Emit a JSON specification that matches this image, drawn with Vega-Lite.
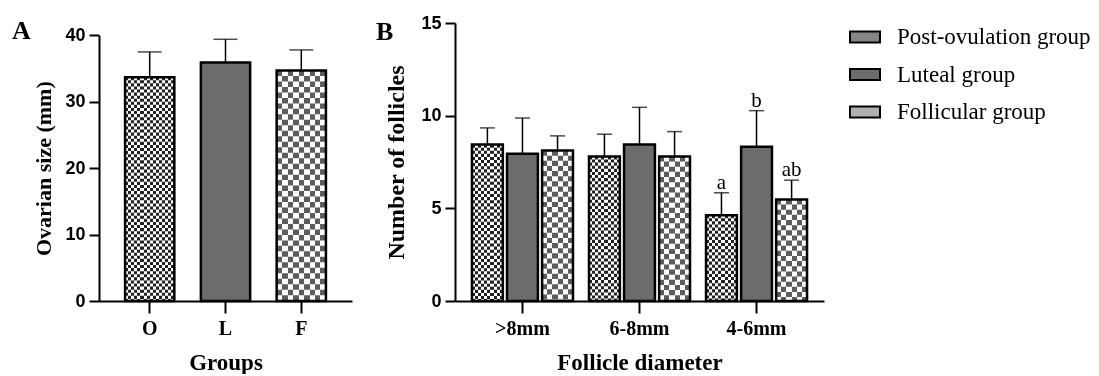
{
  "$schema": "https://vega.github.io/schema/vega-lite/v6.json",
  "background": "white",
  "autosize": {"type": "pad"},
  "padding": {"left": 12, "top": 14, "right": 0, "bottom": 0},
  "bounds": "flush",
  "spacing": 103,
  "resolve": {"scale": {"fill": "independent"}, "legend": {"fill": "independent"}},
  "config": {
    "view": {"stroke": null},
    "axis": {
      "domainColor": "black", "domainWidth": 2,
      "tickColor": "black", "tickWidth": 2,
      "labelColor": "black", "titleColor": "black",
      "grid": false
    },
    "title": {"color": "black"}
  },
  "datasets": {
    "ovary": [
      {"group": "O", "mean": 33.7, "upper": 37.5},
      {"group": "L", "mean": 35.9, "upper": 39.4},
      {"group": "F", "mean": 34.7, "upper": 37.8}
    ],
    "follicles": [
      {"diameter": ">8mm", "group": "Post-ovulation group", "mean": 8.44, "upper": 9.34, "sig": ""},
      {"diameter": ">8mm", "group": "Luteal group", "mean": 7.94, "upper": 9.88, "sig": ""},
      {"diameter": ">8mm", "group": "Follicular group", "mean": 8.12, "upper": 8.91, "sig": ""},
      {"diameter": "6-8mm", "group": "Post-ovulation group", "mean": 7.80, "upper": 9.0, "sig": ""},
      {"diameter": "6-8mm", "group": "Luteal group", "mean": 8.44, "upper": 10.45, "sig": ""},
      {"diameter": "6-8mm", "group": "Follicular group", "mean": 7.80, "upper": 9.14, "sig": ""},
      {"diameter": "4-6mm", "group": "Post-ovulation group", "mean": 4.63, "upper": 5.84, "sig": "a"},
      {"diameter": "4-6mm", "group": "Luteal group", "mean": 8.32, "upper": 10.27, "sig": "b"},
      {"diameter": "4-6mm", "group": "Follicular group", "mean": 5.48, "upper": 6.52, "sig": "ab"}
    ]
  },
  "hconcat": [
    {
      "width": 253,
      "height": 278,
      "title": {"text": "A", "anchor": "start", "frame": "group", "orient": "top", "baseline": "alphabetic", "offset": 0, "dx": -87, "dy": 42, "font": "Liberation Serif", "fontSize": 26, "fontWeight": "bold"},
      "data": {"name": "ovary"},
      "encoding": {
        "x": {
          "field": "group", "type": "nominal", "sort": ["O", "L", "F"],
          "scale": {"paddingInner": 0.35, "paddingOuter": 0.344},
          "axis": {
            "title": "Groups", "labelAngle": 0,
            "labelFont": "Liberation Serif", "labelFontWeight": "bold", "labelFontSize": 20, "labelPadding": 5,
            "tickSize": 12,
            "titleFont": "Liberation Serif", "titleFontWeight": "bold", "titleFontSize": 23, "titlePadding": 13
          }
        }
      },
      "layer": [
        {
          "mark": {"type": "bar"},
          "encoding": {
            "y": {
              "field": "mean", "type": "quantitative",
              "scale": {"domain": [0, 40], "range": [278, 12.3], "nice": false, "zero": true},
              "axis": {
                "title": "Ovarian size (mm)", "values": [0, 10, 20, 30, 40],
                "labelFont": "Liberation Sans", "labelFontWeight": "bold", "labelFontSize": 18, "labelPadding": 4,
                "tickSize": 10,
                "titleFont": "Liberation Serif", "titleFontWeight": "bold", "titleFontSize": 22, "titlePadding": 9
              }
            },
            "fill": {"field": "group", "type": "nominal", "scale": {"domain": ["O", "L", "F"], "range": ["#858585", "#6c6c6c", "#b0b0b0"]}, "legend": null}
          }
        },
        {
          "transform": [{"filter": "datum.group == 'O'"}],
          "mark": {"type": "bar", "fill": {"gradient": "linear", "x1": 0, "y1": 0, "x2": 1, "y2": 0, "stops": [
            {"offset": 0, "color": "#000000"}, {"offset": 0.0625, "color": "#000000"},
            {"offset": 0.0625, "color": "#dddddd"}, {"offset": 0.125, "color": "#dddddd"},
            {"offset": 0.125, "color": "#000000"}, {"offset": 0.1875, "color": "#000000"},
            {"offset": 0.1875, "color": "#dddddd"}, {"offset": 0.25, "color": "#dddddd"},
            {"offset": 0.25, "color": "#000000"}, {"offset": 0.3125, "color": "#000000"},
            {"offset": 0.3125, "color": "#dddddd"}, {"offset": 0.375, "color": "#dddddd"},
            {"offset": 0.375, "color": "#000000"}, {"offset": 0.4375, "color": "#000000"},
            {"offset": 0.4375, "color": "#dddddd"}, {"offset": 0.5, "color": "#dddddd"},
            {"offset": 0.5, "color": "#000000"}, {"offset": 0.5625, "color": "#000000"},
            {"offset": 0.5625, "color": "#dddddd"}, {"offset": 0.625, "color": "#dddddd"},
            {"offset": 0.625, "color": "#000000"}, {"offset": 0.6875, "color": "#000000"},
            {"offset": 0.6875, "color": "#dddddd"}, {"offset": 0.75, "color": "#dddddd"},
            {"offset": 0.75, "color": "#000000"}, {"offset": 0.8125, "color": "#000000"},
            {"offset": 0.8125, "color": "#dddddd"}, {"offset": 0.875, "color": "#dddddd"},
            {"offset": 0.875, "color": "#000000"}, {"offset": 0.9375, "color": "#000000"},
            {"offset": 0.9375, "color": "#dddddd"}, {"offset": 1, "color": "#dddddd"}
          ]}},
          "encoding": {"y": {"field": "mean", "type": "quantitative"}}
        },
        {
          "transform": [{"filter": "datum.group == 'F'"}],
          "mark": {"type": "bar", "fill": {"gradient": "linear", "x1": 0, "y1": 0, "x2": 1, "y2": 0, "stops": [
            {"offset": 0, "color": "#000000"}, {"offset": 0.1111, "color": "#000000"},
            {"offset": 0.1111, "color": "#a3a3a3"}, {"offset": 0.2222, "color": "#a3a3a3"},
            {"offset": 0.2222, "color": "#000000"}, {"offset": 0.3333, "color": "#000000"},
            {"offset": 0.3333, "color": "#a3a3a3"}, {"offset": 0.4444, "color": "#a3a3a3"},
            {"offset": 0.4444, "color": "#000000"}, {"offset": 0.5556, "color": "#000000"},
            {"offset": 0.5556, "color": "#a3a3a3"}, {"offset": 0.6667, "color": "#a3a3a3"},
            {"offset": 0.6667, "color": "#000000"}, {"offset": 0.7778, "color": "#000000"},
            {"offset": 0.7778, "color": "#a3a3a3"}, {"offset": 0.8889, "color": "#a3a3a3"},
            {"offset": 0.8889, "color": "#000000"}, {"offset": 1, "color": "#000000"}
          ]}},
          "encoding": {"y": {"field": "mean", "type": "quantitative"}}
        },
        {
          "transform": [{"filter": "datum.group == 'O'"}],
          "mark": {"type": "rule", "color": "#dddddd", "strokeWidth": 49.3, "strokeDash": [3.08, 3.08], "strokeCap": "butt", "blend": "difference"},
          "encoding": {"y": {"field": "mean", "type": "quantitative"}, "y2": {"datum": 0}}
        },
        {
          "transform": [{"filter": "datum.group == 'F'"}],
          "mark": {"type": "rule", "color": "#a3a3a3", "strokeWidth": 49.3, "strokeDash": [5.48, 5.48], "strokeCap": "butt", "blend": "difference"},
          "encoding": {"y": {"field": "mean", "type": "quantitative"}, "y2": {"datum": 0}}
        },
        {
          "transform": [{"filter": "datum.group != 'L'"}],
          "mark": {"type": "bar", "fill": "white", "blend": "difference"},
          "encoding": {"y": {"field": "mean", "type": "quantitative"}}
        },
        {
          "mark": {"type": "bar", "filled": false, "stroke": "black", "strokeWidth": 2.5},
          "encoding": {"y": {"field": "mean", "type": "quantitative"}}
        },
        {
          "mark": {"type": "rule", "color": "black", "strokeWidth": 1.5},
          "encoding": {
            "y": {"field": "mean", "type": "quantitative"},
            "y2": {"field": "upper"}
          }
        },
        {
          "mark": {"type": "tick", "color": "black", "size": 24, "thickness": 1.5, "orient": "horizontal"},
          "encoding": {
            "y": {"field": "upper", "type": "quantitative"}
          }
        }
      ]
    },
    {
      "width": 369,
      "height": 278,
      "title": {"text": "B", "anchor": "start", "frame": "group", "orient": "top", "baseline": "alphabetic", "offset": 0, "dx": -79, "dy": 52, "font": "Liberation Serif", "fontSize": 26, "fontWeight": "bold"},
      "data": {"name": "follicles"},
      "encoding": {
        "x": {
          "field": "diameter", "type": "nominal", "sort": [">8mm", "6-8mm", "4-6mm"],
          "scale": {"paddingInner": 0.137, "paddingOuter": 0.145},
          "axis": {
            "title": "Follicle diameter", "labelAngle": 0,
            "labelFont": "Liberation Serif", "labelFontWeight": "bold", "labelFontSize": 20, "labelPadding": 5,
            "tickSize": 12,
            "titleFont": "Liberation Serif", "titleFontWeight": "bold", "titleFontSize": 23, "titlePadding": 13
          }
        },
        "xOffset": {
          "field": "group", "type": "nominal",
          "sort": ["Post-ovulation group", "Luteal group", "Follicular group"],
          "scale": {"paddingInner": 0.12, "paddingOuter": 0}
        }
      },
      "layer": [
        {
          "mark": {"type": "bar"},
          "encoding": {
            "y": {
              "field": "mean", "type": "quantitative",
              "scale": {"domain": [0, 15], "nice": false},
              "axis": {
                "title": "Number of follicles", "values": [0, 5, 10, 15],
                "labelFont": "Liberation Sans", "labelFontWeight": "bold", "labelFontSize": 18, "labelPadding": 4,
                "tickSize": 10,
                "titleFont": "Liberation Serif", "titleFontWeight": "bold", "titleFontSize": 24, "titlePadding": 12
              }
            },
            "fill": {
              "field": "group", "type": "nominal",
              "scale": {"domain": ["Post-ovulation group", "Luteal group", "Follicular group"], "range": ["#858585", "#6c6c6c", "#b0b0b0"]},
              "legend": {
                "title": null, "orient": "none", "legendX": 394, "legendY": -2, "padding": 0,
                "symbolType": "M-1,-0.367H1V0.367H-1Z", "symbolSize": 900,
                "symbolStrokeColor": "black", "symbolStrokeWidth": 2, "symbolOpacity": 1,
                "labelFont": "Liberation Serif", "labelFontSize": 23, "labelColor": "black", "labelLimit": 400,
                "labelOffset": 16, "rowPadding": 9.5
              }
            }
          }
        },
        {
          "transform": [{"filter": "datum.group == 'Post-ovulation group'"}],
          "mark": {"type": "bar", "fill": {"gradient": "linear", "x1": 0, "y1": 0, "x2": 1, "y2": 0, "stops": [
            {"offset": 0, "color": "#000000"}, {"offset": 0.1, "color": "#000000"},
            {"offset": 0.1, "color": "#dddddd"}, {"offset": 0.2, "color": "#dddddd"},
            {"offset": 0.2, "color": "#000000"}, {"offset": 0.3, "color": "#000000"},
            {"offset": 0.3, "color": "#dddddd"}, {"offset": 0.4, "color": "#dddddd"},
            {"offset": 0.4, "color": "#000000"}, {"offset": 0.5, "color": "#000000"},
            {"offset": 0.5, "color": "#dddddd"}, {"offset": 0.6, "color": "#dddddd"},
            {"offset": 0.6, "color": "#000000"}, {"offset": 0.7, "color": "#000000"},
            {"offset": 0.7, "color": "#dddddd"}, {"offset": 0.8, "color": "#dddddd"},
            {"offset": 0.8, "color": "#000000"}, {"offset": 0.9, "color": "#000000"},
            {"offset": 0.9, "color": "#dddddd"}, {"offset": 1, "color": "#dddddd"}
          ]}},
          "encoding": {"y": {"field": "mean", "type": "quantitative"}}
        },
        {
          "transform": [{"filter": "datum.group == 'Follicular group'"}],
          "mark": {"type": "bar", "fill": {"gradient": "linear", "x1": 0, "y1": 0, "x2": 1, "y2": 0, "stops": [
            {"offset": 0, "color": "#000000"}, {"offset": 0.1667, "color": "#000000"},
            {"offset": 0.1667, "color": "#a3a3a3"}, {"offset": 0.3333, "color": "#a3a3a3"},
            {"offset": 0.3333, "color": "#000000"}, {"offset": 0.5, "color": "#000000"},
            {"offset": 0.5, "color": "#a3a3a3"}, {"offset": 0.6667, "color": "#a3a3a3"},
            {"offset": 0.6667, "color": "#000000"}, {"offset": 0.8333, "color": "#000000"},
            {"offset": 0.8333, "color": "#a3a3a3"}, {"offset": 1, "color": "#a3a3a3"}
          ]}},
          "encoding": {"y": {"field": "mean", "type": "quantitative"}}
        },
        {
          "transform": [{"filter": "datum.group == 'Post-ovulation group'"}],
          "mark": {"type": "rule", "color": "#dddddd", "strokeWidth": 30.86, "strokeDash": [3.09, 3.09], "strokeCap": "butt", "blend": "difference"},
          "encoding": {"y": {"field": "mean", "type": "quantitative"}, "y2": {"datum": 0}}
        },
        {
          "transform": [{"filter": "datum.group == 'Follicular group'"}],
          "mark": {"type": "rule", "color": "#a3a3a3", "strokeWidth": 30.86, "strokeDash": [5.14, 5.14], "strokeCap": "butt", "blend": "difference"},
          "encoding": {"y": {"field": "mean", "type": "quantitative"}, "y2": {"datum": 0}}
        },
        {
          "transform": [{"filter": "datum.group != 'Luteal group'"}],
          "mark": {"type": "bar", "fill": "white", "blend": "difference"},
          "encoding": {"y": {"field": "mean", "type": "quantitative"}}
        },
        {
          "mark": {"type": "bar", "filled": false, "stroke": "black", "strokeWidth": 2.5},
          "encoding": {"y": {"field": "mean", "type": "quantitative"}}
        },
        {
          "mark": {"type": "rule", "color": "black", "strokeWidth": 1.5},
          "encoding": {
            "y": {"field": "mean", "type": "quantitative"},
            "y2": {"field": "upper"}
          }
        },
        {
          "mark": {"type": "tick", "color": "black", "size": 15, "thickness": 1.5, "orient": "horizontal"},
          "encoding": {
            "y": {"field": "upper", "type": "quantitative"}
          }
        },
        {
          "mark": {"type": "text", "color": "black", "font": "Liberation Serif", "fontSize": 21, "baseline": "alphabetic", "dy": -4},
          "encoding": {
            "y": {"field": "upper", "type": "quantitative"},
            "text": {"field": "sig"}
          }
        }
      ]
    }
  ]
}
